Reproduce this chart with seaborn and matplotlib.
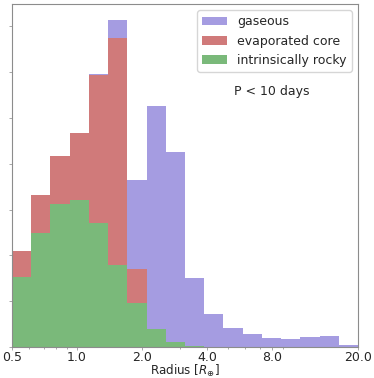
import numpy as np
import pandas as pd
import matplotlib
matplotlib.use("Agg")
import matplotlib.pyplot as plt
import seaborn as sns
from matplotlib.ticker import FixedLocator, LogLocator, NullFormatter

# 18 log-spaced bins between 0.5 and 20 Earth radii
edges = np.logspace(np.log10(0.5), np.log10(20), 19)
centers = np.sqrt(edges[:-1] * edges[1:])

# bar heights per bin (y tick spacing = 1)
rocky = [1.52, 2.48, 3.12, 3.21, 2.70, 1.79, 0.95, 0.39, 0.10, 0.03,
         0, 0, 0, 0, 0, 0, 0, 0]
evap = [0.57, 0.84, 1.05, 1.46, 3.25, 4.96, 0.76, 0, 0, 0,
        0, 0, 0, 0, 0, 0, 0, 0]
gas = [0, 0, 0, 0, 0.02, 0.38, 1.93, 4.88, 4.16, 1.47,
       0.71, 0.42, 0.28, 0.20, 0.17, 0.21, 0.24, 0.04]

labels = ["gaseous", "evaporated core", "intrinsically rocky"]
colors = ["slateblue", "firebrick", "forestgreen"]
xticks = [0.5, 1.0, 2.0, 4.0, 8.0, 20.0]

df = pd.concat([
    pd.DataFrame({"radius": centers, "w": gas, "type": "gaseous"}),
    pd.DataFrame({"radius": centers, "w": evap, "type": "evaporated core"}),
    pd.DataFrame({"radius": centers, "w": rocky, "type": "intrinsically rocky"}),
], ignore_index=True)

sns.set_style("white")
plt.rcParams["font.family"] = ["DejaVu Sans"]
plt.rcParams["font.size"] = 9

fig = plt.figure(figsize=(3.74, 3.78), dpi=100)
ax = fig.add_axes([12/374, 1 - 347/378, 346/374, 343/378])

sns.histplot(data=df, x="radius", weights="w", hue="type", hue_order=labels,
             multiple="stack", bins=list(edges), element="step", alpha=0.6,
             palette=dict(zip(labels, colors)), linewidth=0, ax=ax)

ax.set_xscale("log")
ax.set_xlim(0.5, 20)
ax.set_ylim(0, 7.49)
ax.xaxis.set_major_locator(FixedLocator(xticks))
ax.set_xticklabels([f"{t:.1f}" for t in xticks])
ax.xaxis.set_minor_locator(LogLocator(subs=np.arange(2, 10)))
ax.xaxis.set_minor_formatter(NullFormatter())
ax.set_yticks(range(0, 8))
ax.set_yticklabels([])
ax.set_ylabel("")
ax.set_xlabel(r"Radius [$R_{\oplus}$]", fontsize=8.6)
ax.xaxis.set_label_coords(0.5, -0.047)
ax.xaxis.label.set_va("top")
ax.tick_params(axis="both", which="both", direction="out", length=2,
               width=0.6, color="0.6", labelsize=9, pad=0.8, bottom=True, left=True)
ax.tick_params(axis="x", which="minor", length=1.5)
for s in ax.spines.values():
    s.set_color("0.55")
    s.set_linewidth(0.8)

sns.move_legend(ax, "upper right", title=None, fontsize=9, frameon=True,
                borderaxespad=0.5)
ax.text(0.75, 0.746, "P < 10 days", transform=ax.transAxes,
        ha="center", va="center", fontsize=9)

fig.savefig("out.png", dpi=100)
